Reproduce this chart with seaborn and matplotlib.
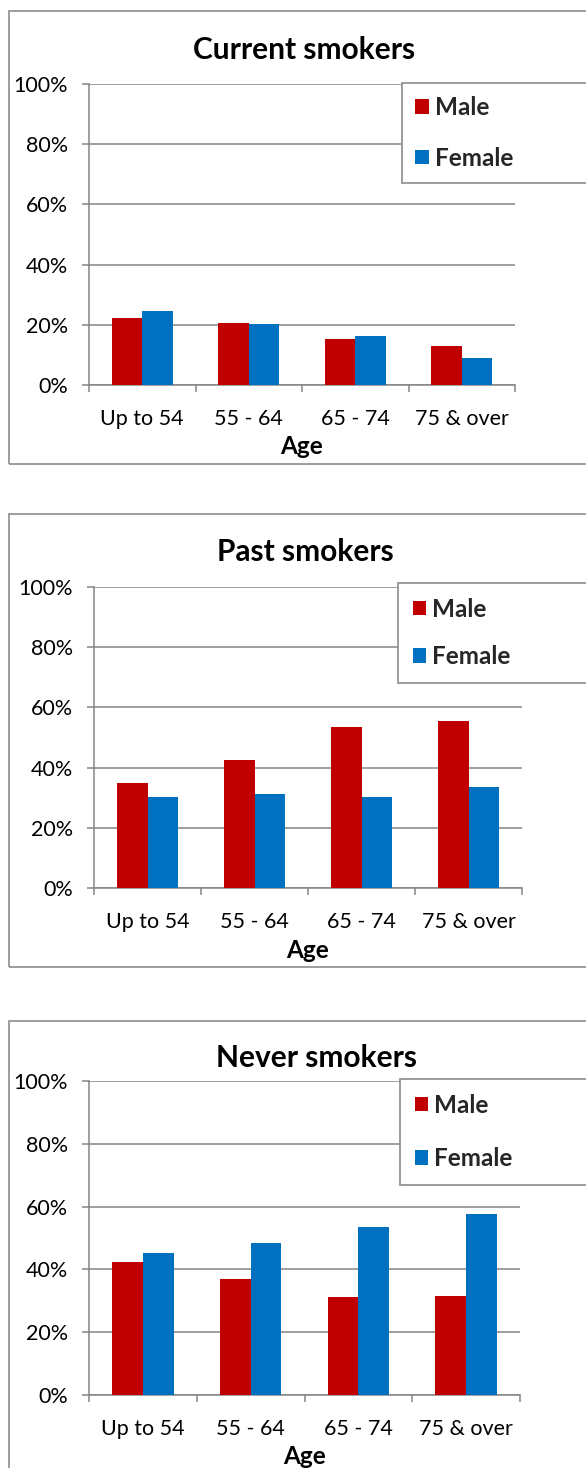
import matplotlib
matplotlib.use("Agg")
import matplotlib.pyplot as plt
import pandas as pd
import seaborn as sns
from matplotlib.font_manager import FontProperties
from matplotlib.patches import Rectangle
from matplotlib.ticker import FixedLocator, PercentFormatter

# ---- data -------------------------------------------------------------
age_groups = ["Up to 54", "55 - 64", "65 - 74", "75 & over"]
sexes = ["Male", "Female"]
current_male = [22.4, 20.5, 15.2, 13.1]
current_female = [24.7, 20.3, 16.2, 8.9]
past_male = [35.0, 42.4, 53.5, 55.4]
past_female = [30.1, 31.3, 30.2, 33.5]
never_male = [42.5, 37.1, 31.1, 31.5]
never_female = [45.2, 48.5, 53.4, 57.5]
panel_titles = ["Current smokers", "Past smokers", "Never smokers"]
y_ticks = [0, 20, 40, 60, 80, 100]
x_label = "Age"

series = [(current_male, current_female),
          (past_male, past_female),
          (never_male, never_female)]

# ---- style ------------------------------------------------------------
sns.set_theme(style="white")
plt.rcParams["font.family"] = ["Lato", "DejaVu Sans"]

W, H = 586, 1468
GRAY = "#858585"
FRAME = "#8c8c8c"
palette = {"Male": "#C00000", "Female": "#0070C0"}
legend_font = FontProperties(family=["Lato", "DejaVu Sans"], weight="bold", size=17.5)

# pixel layout of each chart block
layout = [
    dict(frame=(9, 11, 464), axes=(89, 84, 515, 385), title=(304, 50),
         xlabel=447, legend=(402, 83, 99), spacing=1.12, pad=0.55),
    dict(frame=(9, 514, 967), axes=(94, 587, 522, 888), title=(305, 552),
         xlabel=950, legend=(398, 583, 97), spacing=1.02, pad=0.6),
    dict(frame=(9, 1021, 1490), axes=(89, 1081, 520, 1395), title=(316, 1058),
         xlabel=1457, legend=(400, 1079, 109), spacing=1.26, pad=0.6),
]


def fx(x):
    return x / W


def fy(y):
    return 1 - y / H


fig = plt.figure(figsize=(W / 100, H / 100), dpi=100)
fig.patch.set_facecolor("white")

for (male, female), title, lay in zip(series, panel_titles, layout):
    # chart frame
    x0, ytop, ybot = lay["frame"]
    fig.add_artist(Rectangle((fx(x0), fy(ybot)), fx(W + 20 - x0), (ybot - ytop) / H,
                             transform=fig.transFigure, fill=False,
                             edgecolor=FRAME, linewidth=1.2, zorder=0))

    l, t, r, b = lay["axes"]
    ax = fig.add_axes([fx(l), fy(b), (r - l) / W, (b - t) / H])

    df = pd.DataFrame({
        x_label: age_groups * 2,
        "Sex": ["Male"] * len(age_groups) + ["Female"] * len(age_groups),
        "Percent": list(male) + list(female),
    })
    sns.barplot(data=df, x=x_label, y="Percent", hue="Sex", hue_order=sexes,
                palette=palette, saturation=1, width=0.57, linewidth=0,
                ax=ax, zorder=3)

    ax.set_xlim(-0.5, len(age_groups) - 0.5)
    ax.set_ylim(0, 100)
    ax.yaxis.set_major_locator(FixedLocator(y_ticks))
    ax.yaxis.set_major_formatter(PercentFormatter(decimals=0))
    ax.grid(axis="y", color=GRAY, linewidth=1.1, zorder=0)
    ax.set_axisbelow(True)

    for side in ("top", "right"):
        ax.spines[side].set_visible(False)
    for side in ("left", "bottom"):
        ax.spines[side].set_color(GRAY)
        ax.spines[side].set_linewidth(1.1)

    ax.xaxis.set_minor_locator(FixedLocator([i - 0.5 for i in range(len(age_groups) + 1)]))
    ax.tick_params(axis="x", which="major", length=0, pad=17, labelsize=15.5,
                   labelcolor="black")
    ax.tick_params(axis="x", which="minor", bottom=True, length=5, width=1.1,
                   color=GRAY)
    ax.tick_params(axis="y", which="major", left=True, length=5, width=1.1,
                   color=GRAY, pad=10, labelsize=15.5, labelcolor="black")

    ax.set_ylabel("")
    ax.set_xlabel(x_label, fontsize=17.5, fontweight="bold", color="black")
    ax.xaxis.set_label_coords(((r + l) / 2 - l) / (r - l),
                              -(lay["xlabel"] - b) / (b - t))
    ax.xaxis.label.set_va("center")

    tx, ty = lay["title"]
    ax.set_title(title, fontsize=21.5, fontweight="bold", color="black",
                 x=(tx - l) / (r - l), y=(b - ty) / (b - t), va="center", pad=0)

    # legend rebuilt from the handles seaborn created, boxed at the right edge
    old = ax.get_legend()
    handles = list(old.legend_handles)
    labels = [txt.get_text() for txt in old.get_texts()]
    old.remove()
    lx, ly, lh = lay["legend"]
    leg = ax.legend(handles, labels, loc="upper left",
                    bbox_to_anchor=(fx(lx), fy(ly + lh), 240 / W, lh / H),
                    bbox_transform=fig.transFigure, mode="expand",
                    frameon=True, fancybox=False, edgecolor=FRAME, framealpha=1,
                    prop=legend_font,
                    handlelength=0.55, handleheight=0.55, handletextpad=0.25,
                    labelspacing=lay["spacing"], borderpad=lay["pad"],
                    borderaxespad=0)
    leg.get_frame().set_linewidth(1.2)
    leg.set_zorder(5)

fig.savefig("out.png", dpi=100, facecolor="white")
